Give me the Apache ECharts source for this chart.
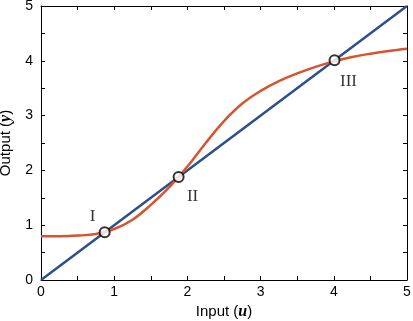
<!DOCTYPE html>
<html>
<head>
<meta charset="utf-8">
<script src="https://cdn.jsdelivr.net/npm/echarts@6/dist/echarts.min.js"></script>
<style>
  html, body { margin: 0; padding: 0; background: #fff; }
  #chart { width: 413px; height: 321px; }
</style>
</head>
<body>
<div id="chart"></div>
<script>
// response curve
const inputU = [0, 0.25, 0.5, 0.75, 1.0, 1.25, 1.5, 1.75, 2.0, 2.25, 2.5, 2.75, 3.0, 3.25, 3.5, 3.75, 4.0, 4.25, 4.5, 4.75, 5.0]
const outputY = [0.8, 0.8, 0.81, 0.84, 0.93, 1.1, 1.37, 1.69, 2.07, 2.5, 2.9, 3.22, 3.45, 3.63, 3.77, 3.89, 3.99, 4.07, 4.13, 4.18, 4.22]
const diagonal = [[0, 0], [5, 5]]
const fixedPoints = [[0.87, 0.87, 'I'], [1.88, 1.88, 'II'], [4.01, 4.01, 'III']]
const pointLabelPos = { I: [-12, -16], II: [14, 20], III: [14, 21] }

const tickFont = { color: '#000', fontSize: 14, fontFamily: 'Liberation Sans, Arial, sans-serif' }
const axisLine = { show: true, onZero: false, lineStyle: { color: '#000', width: 1 } }
const tick = { show: true, inside: true, length: 4, lineStyle: { color: '#000' } }
const intLabel = (v) => (Math.abs(v - Math.round(v)) < 1e-6 ? String(Math.round(v)) : '')
const titleRich = {
  n: { fontSize: 15, fontFamily: 'Liberation Sans, Arial, sans-serif', color: '#000' },
  v: { fontSize: 16, fontFamily: 'Liberation Serif, serif', fontStyle: 'italic', fontWeight: 'bold', color: '#000' },
}

const chart = echarts.init(document.getElementById('chart'), null, { renderer: 'canvas' })

const baseAxis = {
  type: 'value', min: 0, max: 5, interval: 0.5,
  axisLine, axisTick: tick, splitLine: { show: false },
}

chart.setOption({
  animation: false,
  grid: { left: 41, right: 6, top: 6, bottom: 41, outerBoundsMode: 'none', containLabel: false },
  xAxis: [
    {
      ...baseAxis, position: 'bottom',
      axisLabel: { ...tickFont, margin: 5, formatter: intLabel },
      name: '{n|Input (}{v|u}{n|)}', nameLocation: 'middle', nameGap: 23,
      nameTextStyle: { rich: titleRich },
    },
    { ...baseAxis, position: 'top', axisLabel: { show: false } },
  ],
  yAxis: [
    {
      ...baseAxis, position: 'left',
      axisLabel: { ...tickFont, margin: 8, formatter: intLabel },
      name: '{n|Output (}{v|y}{n|)}', nameLocation: 'middle', nameGap: 19,
      nameTextStyle: { rich: titleRich },
    },
    { ...baseAxis, position: 'right', axisLabel: { show: false } },
  ],
  series: [
    {
      type: 'line', data: diagonal, symbol: 'none',
      lineStyle: { color: '#2c4f8e', width: 2.5 },
    },
    {
      type: 'line', data: inputU.map((u, i) => [u, outputY[i]]), symbol: 'none',
      smooth: 0.4,
      lineStyle: { color: '#d6552e', width: 2.5 },
    },
    {
      type: 'scatter', data: fixedPoints, symbol: 'circle', symbolSize: 10, z: 5,
      itemStyle: { color: '#fff', borderColor: '#000', borderWidth: 2 },
      label: {
        show: true,
        formatter: (p) => p.data[2],
        position: 'inside',
        color: '#000', fontSize: 17, fontFamily: 'Liberation Serif, Times New Roman, serif',
      },
      labelLayout: (p) => {
        const off = pointLabelPos[fixedPoints[p.dataIndex][2]]
        return { dx: off[0], dy: off[1] }
      },
    },
  ],
})
</script>
</body>
</html>
